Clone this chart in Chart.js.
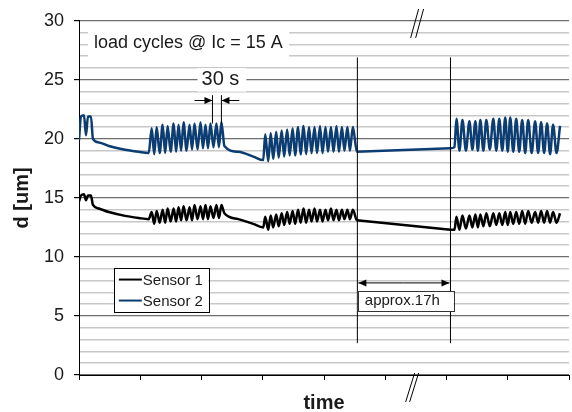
<!DOCTYPE html>
<html>
<head>
<meta charset="utf-8">
<script src="https://cdn.jsdelivr.net/npm/chart.js@4/dist/chart.umd.min.js"></script>
<style>
  html, body { margin: 0; padding: 0; background: #fff; }
  #wrap { width: 572px; height: 412px; }
</style>
</head>
<body>
<div id="wrap"><canvas id="deflectionChart" width="572" height="412"></canvas></div>
<script>
// time axis has no labels, one unit ~ one pixel of the original, 8 divisions
var timeMax = 492;
var timeStep = 61.5;
var yTicks = [0, 5, 10, 15, 20, 25, 30];

var time = [
    // first two pulses and decay
    0, 2, 5, 7, 9, 12, 14, 20, 30, 45, 60, 70,
    // load cycles block 1
    73, 75.5, 78, 81, 84, 86.5, 89, 92, 95, 97.5, 100, 102.5, 105, 108,
    111, 113.5, 116, 119, 122, 124.5, 127, 129.5, 132, 135, 138, 140.5, 143,
    // decay
    146, 160, 175, 185,
    // load cycles block 2
    187, 190, 192.5, 195, 198, 200.5, 203.5, 206, 209, 211.5, 214.5, 217,
    220, 222.5, 225.5, 228, 231, 233.5, 236.5, 239, 242, 244.5, 247.5, 250,
    253, 255.5, 258.5, 261, 264, 266.5, 269.5, 272, 275,
    // pause ~17h
    279, 373, 377,
    // load cycles block 3
    379, 382, 385, 388.5, 392, 395, 398, 400.5, 403, 406, 409, 412.5,
    416, 419, 422, 425, 428, 430.5, 433, 436, 439, 442, 445, 448,
    451, 454.5, 458, 461, 464, 467, 470, 473, 476, 479.5, 483
];

var sensor1 = [
    14.7, 15.2, 15.3, 14.8, 15.2, 15.2, 14.4, 14.1, 13.8, 13.5, 13.3, 13.2,
    13.8, 12.8, 13.9, 12.9, 14.0, 12.9, 14.1, 13.0, 14.1, 13.0, 14.2, 13.1, 14.3, 13.1,
    14.2, 13.1, 14.4, 13.2, 14.3, 13.2, 14.4, 13.2, 14.3, 13.3, 14.4, 13.3, 14.4,
    13.7, 13.2, 12.8, 12.5,
    13.4, 12.3, 13.5, 12.5, 13.6, 12.6, 13.7, 12.7, 13.8, 12.8, 13.9, 12.8,
    14.0, 12.9, 14.1, 12.9, 14.0, 13.0, 14.1, 13.0, 14.0, 13.0, 14.0, 13.1,
    14.1, 13.1, 14.0, 13.1, 14.0, 13.2, 14.0, 13.2, 14.0,
    13.1, 12.3, 12.3,
    13.4, 12.3, 13.5, 12.4, 13.5, 12.5, 13.6, 12.5, 13.6, 12.6, 13.7, 12.6,
    13.7, 12.7, 13.7, 12.7, 13.8, 12.7, 13.8, 12.8, 13.8, 12.8, 13.9, 12.8,
    13.9, 12.9, 13.8, 12.9, 13.9, 12.9, 13.9, 12.9, 13.8, 12.9, 13.7
];

var sensor2 = [
    19.9, 21.9, 22.0, 20.3, 21.9, 21.9, 20.0, 19.7, 19.4, 19.1, 18.9, 18.8,
    20.9, 18.7, 21.0, 18.8, 21.2, 18.8, 21.1, 18.9, 21.3, 18.9, 21.2, 19.0, 21.4, 19.0,
    21.2, 19.1, 21.3, 19.1, 21.4, 19.2, 21.2, 19.2, 21.3, 19.3, 21.3, 19.3, 21.4,
    19.4, 18.9, 18.5, 18.2,
    20.4, 18.1, 20.5, 18.3, 20.6, 18.4, 20.7, 18.5, 20.8, 18.6, 20.9, 18.6,
    21.0, 18.7, 21.1, 18.7, 21.0, 18.8, 21.0, 18.8, 21.1, 18.8, 21.0, 18.9,
    21.0, 18.9, 21.1, 18.9, 21.0, 19.0, 21.0, 19.0, 21.0,
    18.9, 19.2, 19.3,
    21.7, 19.0, 21.6, 19.0, 21.5, 19.1, 21.5, 19.0, 21.6, 19.0, 21.6, 19.1,
    21.7, 19.0, 21.7, 19.0, 21.8, 18.9, 21.8, 18.9, 21.7, 18.9, 21.6, 18.8,
    21.6, 18.8, 21.5, 18.8, 21.4, 18.8, 21.3, 18.7, 21.2, 18.8, 21.1
];

var seriesNames = ["Sensor 1", "Sensor 2"];
var seriesColors = ["#000000", "#0b3c72"];

var FONT = "'Liberation Sans', Arial, sans-serif";

// the long pause (largest time step) is drawn as a straight line
var pauseIdx = 0;
for (var i = 1; i < time.length - 1; i++) {
    if (time[i + 1] - time[i] > time[pauseIdx + 1] - time[pauseIdx]) pauseIdx = i;
}

function toPoints(values) {
    return time.map(function (t, i) {
        return { x: t, y: values[i] };
    });
}

function pausePoints(values) {
    return [
        { x: time[pauseIdx], y: values[pauseIdx] },
        { x: time[pauseIdx + 1], y: values[pauseIdx + 1] },
    ];
}

function hidePause(ctx) {
    return ctx.p0DataIndex === pauseIdx ? "rgba(0,0,0,0)" : undefined;
}

function arrow(ctx, x1, y, x2) {
    var dir = x2 > x1 ? 1 : -1;
    ctx.beginPath();
    ctx.moveTo(x1, y);
    ctx.lineTo(x2, y);
    ctx.stroke();
    ctx.beginPath();
    ctx.moveTo(x2, y);
    ctx.lineTo(x2 - dir * 8, y - 3.5);
    ctx.lineTo(x2 - dir * 8, y + 3.5);
    ctx.closePath();
    ctx.fill();
}

// texts, arrows, break marks and legend drawn on top
var notesPlugin = {
    id: "notes",
    afterDraw: function (chart) {
        var ctx = chart.ctx;
        var X = function (v) { return chart.scales.x.getPixelForValue(v); };
        var Y = function (v) { return chart.scales.y.getPixelForValue(v); };
        var area = chart.chartArea;
        ctx.save();
        ctx.fillStyle = "#1a1a1a";
        ctx.strokeStyle = "#000";

        // "load cycles" label
        ctx.fillStyle = "#fff";
        ctx.fillRect(X(9), Y(29.1), X(211) - X(9), Y(26.9) - Y(29.1));
        ctx.fillStyle = "#1a1a1a";
        ctx.font = "18px " + FONT;
        ctx.textBaseline = "middle";
        ctx.textAlign = "left";
        ctx.fillText("load cycles @ Ic = 15 A", X(15), Y(28.1));

        // 30 s marker
        ctx.fillStyle = "#fff";
        ctx.fillRect(X(119), Y(26.0), X(168) - X(119), Y(24.0) - Y(26.0));
        ctx.fillStyle = "#1a1a1a";
        ctx.font = "20px " + FONT;
        ctx.textAlign = "center";
        ctx.fillText("30 s", X(142), Y(25.0));
        ctx.lineWidth = 1;
        ctx.beginPath();
        ctx.moveTo(X(134), Y(23.7)); ctx.lineTo(X(134), Y(21.3));
        ctx.moveTo(X(143), Y(23.7)); ctx.lineTo(X(143), Y(21.3));
        ctx.stroke();
        ctx.fillStyle = "#000";
        arrow(ctx, X(116), Y(23.25), X(134));
        arrow(ctx, X(161), Y(23.25), X(143));

        // pause markers
        ctx.beginPath();
        ctx.moveTo(X(279.5), Y(26.9)); ctx.lineTo(X(279.5), Y(2.7));
        ctx.moveTo(X(373), Y(26.9)); ctx.lineTo(X(373), Y(2.7));
        ctx.stroke();
        arrow(ctx, X(326), Y(7.8), X(280.5));
        arrow(ctx, X(326), Y(7.8), X(372));
        ctx.fillStyle = "#fff";
        ctx.fillRect(X(280), Y(7.1), X(376) - X(280), Y(5.4) - Y(7.1));
        ctx.strokeStyle = "#333";
        ctx.strokeRect(Math.round(X(280)) + 0.5, Math.round(Y(7.1)) + 0.5,
            Math.round(X(376) - X(280)), Math.round(Y(5.4) - Y(7.1)));
        ctx.fillStyle = "#1a1a1a";
        ctx.font = "15px " + FONT;
        ctx.textAlign = "left";
        ctx.fillText("approx.17h", X(287), Y(6.25));

        // axis break marks
        ctx.strokeStyle = "#000";
        ctx.beginPath();
        ctx.moveTo(X(333), Y(28.55)); ctx.lineTo(X(341), Y(31.0));
        ctx.moveTo(X(338), Y(28.55)); ctx.lineTo(X(346), Y(31.0));
        ctx.moveTo(X(328), Y(-2.28)); ctx.lineTo(X(337), Y(0.17));
        ctx.moveTo(X(332), Y(-2.28)); ctx.lineTo(X(341), Y(0.17));
        ctx.stroke();

        // legend box
        var lx = X(35), ly = Y(9.1), lw = X(130) - X(35), lh = Y(5.4) - Y(9.1);
        ctx.fillStyle = "#fff";
        ctx.fillRect(lx, ly, lw, lh);
        ctx.strokeStyle = "#000";
        ctx.strokeRect(Math.round(lx) + 0.5, Math.round(ly) + 0.5, Math.round(lw), Math.round(lh));
        ctx.font = "15px " + FONT;
        seriesNames.forEach(function (name, i) {
            var yy = ly + 12 + i * 21;
            ctx.strokeStyle = seriesColors[i];
            ctx.lineWidth = 2;
            ctx.beginPath();
            ctx.moveTo(lx + 5, yy); ctx.lineTo(lx + 28, yy);
            ctx.stroke();
            ctx.fillStyle = "#1a1a1a";
            ctx.fillText(name, lx + 29, yy + 1);
        });

        // axis titles
        ctx.font = "bold 20px " + FONT;
        ctx.textAlign = "center";
        ctx.fillText("time", (area.left + area.right) / 2, 403);
        ctx.translate(22, (area.top + area.bottom) / 2);
        ctx.rotate(-Math.PI / 2);
        ctx.fillText("d [um]", 0, 0);
        ctx.restore();
    }
};

function sensorDataset(i, values) {
    return {
        label: seriesNames[i],
        data: toPoints(values),
        borderColor: seriesColors[i],
        borderWidth: 2.5,
        pointRadius: 0,
        cubicInterpolationMode: "monotone",
        segment: { borderColor: hidePause },
    };
}

function pauseDataset(i, values) {
    return {
        label: seriesNames[i] + " pause",
        data: pausePoints(values),
        borderColor: seriesColors[i],
        borderWidth: 2.5,
        pointRadius: 0,
        tension: 0,
    };
}

var chartCanvas = document.getElementById("deflectionChart");

var deflectionChart = new Chart(chartCanvas, {
    type: "line",
    data: {
        datasets: [
            sensorDataset(0, sensor1),
            sensorDataset(1, sensor2),
            pauseDataset(0, sensor1),
            pauseDataset(1, sensor2),
        ],
    },
    options: {
        responsive: false,
        animation: false,
        layout: { padding: { top: 20, right: 1, left: 0, bottom: 0 } },
        scales: {
            x: {
                type: "linear",
                min: 0,
                max: timeMax,
                afterBuildTicks: function (scale) {
                    var t = [];
                    for (var v = 0; v <= timeMax + 0.01; v += timeStep) t.push({ value: v });
                    scale.ticks = t;
                },
                afterFit: function (scale) { scale.height = 37; },
                ticks: { autoSkip: false, callback: function () { return ""; } },
                grid: {
                    drawOnChartArea: false,
                    tickLength: 5,
                    tickColor: "#000",
                },
                border: { color: "#000", width: 1 },
            },
            y: {
                min: 0,
                max: 30,
                afterBuildTicks: function (scale) {
                    var t = [];
                    for (var v = 0; v <= 30; v++) t.push({ value: v });
                    scale.ticks = t;
                },
                afterFit: function (scale) { scale.width = 79; },
                ticks: {
                    autoSkip: false,
                    padding: 10,
                    color: "#1a1a1a",
                    font: { family: FONT, size: 18 },
                    callback: function (v) { return yTicks.indexOf(v) >= 0 ? String(v) : ""; },
                },
                grid: {
                    tickLength: 5,
                    color: function (c) { return c.tick.value % 5 === 0 ? "#6e6e6e" : "#c8c8c8"; },
                    tickColor: function (c) { return c.tick.value % 5 === 0 ? "#000" : "rgba(0,0,0,0)"; },
                    lineWidth: function (c) { return c.tick.value % 5 === 0 ? 1.2 : 1.5; },
                },
                border: { color: "#000", width: 1 },
            },
        },
        plugins: {
            legend: { display: false },
            tooltip: { enabled: false },
        },
    },
    plugins: [notesPlugin],
});
</script>
</body>
</html>
